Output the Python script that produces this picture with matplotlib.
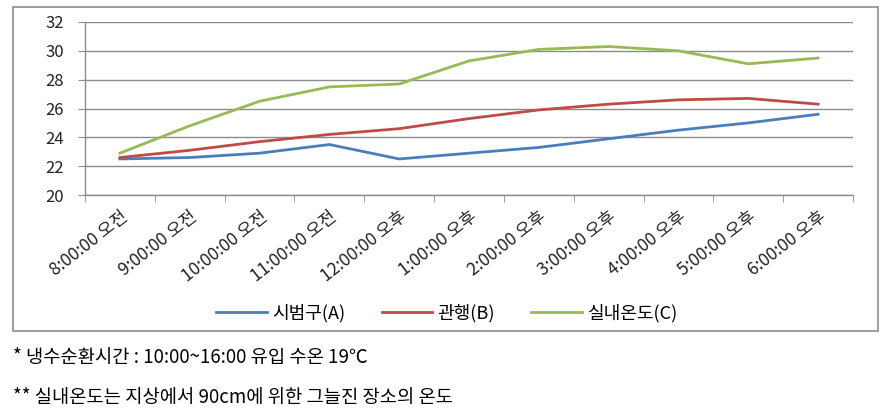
import matplotlib
matplotlib.use("Agg")
import matplotlib.pyplot as plt
from matplotlib.patches import Rectangle

plt.rcParams['font.family'] = ['Noto Sans CJK KR', 'DejaVu Sans']

categories = ["8:00:00 오전", "9:00:00 오전", "10:00:00 오전", "11:00:00 오전", "12:00:00 오후",
              "1:00:00 오후", "2:00:00 오후", "3:00:00 오후", "4:00:00 오후", "5:00:00 오후", "6:00:00 오후"]
series_a = [22.5, 22.6, 22.9, 23.5, 22.5, 22.9, 23.3, 23.9, 24.5, 25.0, 25.6]
series_b = [22.6, 23.1, 23.7, 24.2, 24.6, 25.3, 25.9, 26.3, 26.6, 26.7, 26.3]
series_c = [22.9, 24.8, 26.5, 27.5, 27.7, 29.3, 30.1, 30.3, 30.0, 29.1, 29.5]
labels = ["시범구(A)", "관행(B)", "실내온도(C)"]
yticks = [20, 22, 24, 26, 28, 30, 32]
note1 = "* 냉수순환시간 : 10:00~16:00 유입 수온 19℃"
note2 = "** 실내온도는 지상에서 90cm에 위한 그늘진 장소의 온도"

W, H = 892, 420
fig = plt.figure(figsize=(W/100, H/100), dpi=100)

# outer chart box
fig.patches.append(Rectangle((13/W, 1-331/H), (878-13)/W, (331-7)/H, transform=fig.transFigure,
                             fill=False, edgecolor='#8c8c8c', linewidth=1.2))

ax = fig.add_axes([85/W, 1-195/H, (853-85)/W, (195-22)/H])
x = list(range(len(categories)))
colors = ['#4A7EBB', '#BE4B48', '#98B954']
for vals, lab, c in zip([series_a, series_b, series_c], labels, colors):
    ax.plot(x, vals, color=c, linewidth=2.0, label=lab)

ax.set_xlim(-0.5, len(categories)-0.5)
ax.set_ylim(20, 32)
ax.set_yticks(yticks)
ax.set_yticklabels([str(v) for v in yticks], fontsize=12, color='#222222')
ax.grid(axis='y', color='#8c8c8c', linewidth=1.0)
ax.set_axisbelow(True)
ax.set_xticks(x)
ax.set_xticklabels(categories, rotation=38, ha='right', rotation_mode='anchor', fontsize=12.5, color='#222222')
ax.tick_params(axis='x', length=0, pad=9)
ax.set_xticks([i-0.5 for i in range(len(categories)+1)], minor=True)
ax.tick_params(axis='x', which='minor', length=5, color='#8c8c8c')
ax.tick_params(axis='y', length=5, color='#8c8c8c', pad=10)
for s in ['top', 'right']:
    ax.spines[s].set_visible(False)
for s in ['left', 'bottom']:
    ax.spines[s].set_color('#8c8c8c')
    ax.spines[s].set_linewidth(1.0)

fig.legend(loc='center', bbox_to_anchor=(447/W, 1-313/H), ncol=3, frameon=False,
           fontsize=13, handlelength=2.8, columnspacing=2.0, handletextpad=0.3)

fig.text(13/W, 1-357/H, note1, fontsize=13.5, va='center', ha='left')
fig.text(13/W, 1-397/H, note2, fontsize=13.5, va='center', ha='left')

fig.savefig("out.png", dpi=100)
